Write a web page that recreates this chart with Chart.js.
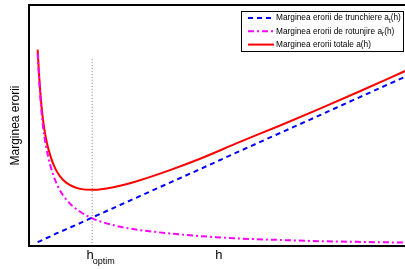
<!DOCTYPE html>
<html>
<head>
<meta charset="utf-8">
<script src="https://cdn.jsdelivr.net/npm/chart.js@4"></script>
<style>
  html, body { margin: 0; padding: 0; background: #fff; }
  #wrap { width: 405px; height: 269px; }
</style>
</head>
<body>
<div id="wrap"><canvas id="errChart"></canvas></div>
<script>
// step values h
const stepH = [0.23, 0.27, 0.32, 0.37, 0.45, 0.56, 0.69, 0.82, 0.98, 1.14, 1.36, 1.68, 2.02, 2.42, 2.95, 3.75, 4.55, 5.61, 6.68, 7.74, 8.8, 10];
// truncation error a_t(h)
const truncErr = [0.16, 0.19, 0.22, 0.26, 0.32, 0.39, 0.49, 0.58, 0.69, 0.80, 0.95, 1.18, 1.42, 1.70, 2.07, 2.63, 3.19, 3.94, 4.69, 5.43, 6.18, 7.02];
// rounding error a_r(h)
const roundErr = [8.00, 6.88, 5.79, 5.00, 4.16, 3.39, 2.76, 2.32, 1.95, 1.68, 1.42, 1.15, 0.96, 0.80, 0.66, 0.52, 0.41, 0.31, 0.25, 0.20, 0.17, 0.14];
// total error a(h)
const totalErr = [8.15, 7.06, 6.02, 5.27, 4.47, 3.78, 3.24, 2.90, 2.64, 2.49, 2.37, 2.33, 2.38, 2.50, 2.73, 3.15, 3.62, 4.32, 5.00, 5.70, 6.42, 7.26];

const hOptim = 1.68;
const optimLineTop = 7.84;
const xLabels = [{ v: hOptim, main: 'h', sub: 'optim' }, { v: 5.05, main: 'h', sub: '' }];

const toPts = (ys) => stepH.map((h, i) => ({ x: h, y: ys[i] }));

const chartData = {
    datasets: [{
        label: 'Marginea erorii de trunchiere a_t(h)',
        data: toPts(truncErr),
        borderColor: '#0000ff',
        borderWidth: 2,
        borderDash: [5, 4]
    }, {
        label: 'Marginea erorii de rotunjire a_r(h)',
        data: toPts(roundErr),
        borderColor: '#ff00ff',
        borderWidth: 2,
        borderDash: [6, 3, 2, 3]
    }, {
        label: 'Marginea erorii totale a(h)',
        data: toPts(totalErr),
        borderColor: '#ff0000',
        borderWidth: 2
    }, {
        label: '',
        data: [{ x: hOptim, y: 0 }, { x: hOptim, y: optimLineTop }],
        borderColor: '#808080',
        borderWidth: 1,
        borderDash: [1, 2],
        tension: 0
    }]
};

// text with "_x" subscript
function drawSubText(ctx, str, x, y, size) {
    const m = str.match(/^(.*)_(\w)(.*)$/);
    ctx.font = size + 'px "Liberation Sans", Arial, sans-serif';
    if (!m) { ctx.fillText(str, x, y); return; }
    ctx.fillText(m[1], x, y);
    let w = ctx.measureText(m[1]).width;
    ctx.font = (size - 2) + 'px "Liberation Sans", Arial, sans-serif';
    ctx.fillText(m[2], x + w, y + 3);
    w += ctx.measureText(m[2]).width;
    ctx.font = size + 'px "Liberation Sans", Arial, sans-serif';
    ctx.fillText(m[3], x + w, y);
}

const decorPlugin = {
    id: 'decor',
    afterDraw(chart) {
        const ctx = chart.ctx;
        const a = chart.chartArea;
        const xs = chart.scales.x;
        ctx.save();
        // frame: left, top, bottom
        ctx.strokeStyle = '#000';
        ctx.lineWidth = 2;
        ctx.beginPath();
        ctx.moveTo(a.right + 2, a.top);
        ctx.lineTo(a.left, a.top);
        ctx.lineTo(a.left, a.bottom);
        ctx.lineTo(a.right + 2, a.bottom);
        ctx.stroke();

        // y title
        ctx.fillStyle = '#000';
        ctx.textBaseline = 'alphabetic';
        ctx.save();
        ctx.translate(19, (a.top + a.bottom) / 2);
        ctx.rotate(-Math.PI / 2);
        ctx.font = '12px "Liberation Sans", Arial, sans-serif';
        ctx.textAlign = 'center';
        ctx.fillText('Marginea erorii', 0, 0);
        ctx.restore();

        // x labels
        ctx.textAlign = 'left';
        xLabels.forEach(l => {
            const px = xs.getPixelForValue(l.v);
            ctx.font = '13px "Liberation Sans", Arial, sans-serif';
            const w = ctx.measureText(l.main).width;
            const x0 = l.sub ? px - w / 2 - 2 : px - w / 2;
            ctx.fillText(l.main, x0, 259);
            if (l.sub) {
                ctx.font = '9px "Liberation Sans", Arial, sans-serif';
                ctx.fillText(l.sub, x0 + w - 1, 264);
            }
        });

        // legend box
        const bx = 241, by = 11, bw = 162, bh = 40;
        ctx.fillStyle = '#fff';
        ctx.fillRect(bx, by, bw, bh);
        ctx.strokeStyle = '#000';
        ctx.lineWidth = 1;
        ctx.strokeRect(bx + 0.5, by + 0.5, bw, bh);
        const items = chart.data.datasets.filter(d => d.label);
        items.forEach((d, i) => {
            const y = by + 7 + i * 13.3;
            ctx.strokeStyle = d.borderColor;
            ctx.lineWidth = d.borderWidth;
            ctx.setLineDash(d.borderDash || []);
            ctx.beginPath();
            ctx.moveTo(248, y);
            ctx.lineTo(274, y);
            ctx.stroke();
            ctx.setLineDash([]);
            ctx.fillStyle = '#000';
            ctx.textBaseline = 'middle';
            drawSubText(ctx, d.label, 276, y, 8.3);
        });
        ctx.restore();
    }
};

const chartOptions = {
    responsive: true,
    maintainAspectRatio: false,
    animation: false,
    layout: { padding: { left: 29, top: 5, right: 0, bottom: 23 } },
    elements: {
        point: { radius: 0 },
        line: { cubicInterpolationMode: 'monotone', fill: false }
    },
    scales: {
        x: { type: 'linear', min: 0, max: 10, display: false },
        y: { type: 'linear', min: 0, max: 10, display: false }
    },
    plugins: {
        legend: { display: false },
        tooltip: { enabled: false }
    }
};

const ctxErr = document.getElementById('errChart').getContext('2d');
const errChart = new Chart(ctxErr, {
    type: 'line',
    data: chartData,
    options: chartOptions,
    plugins: [decorPlugin]
});
</script>
</body>
</html>
